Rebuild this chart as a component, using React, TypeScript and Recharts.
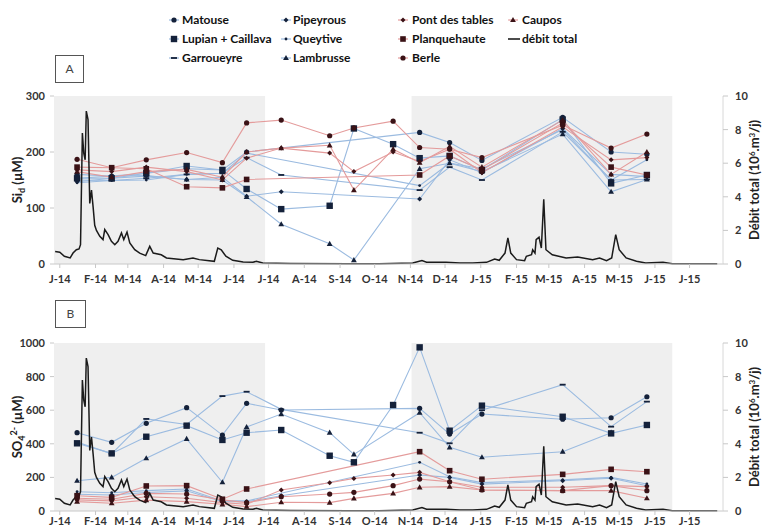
import React from "react";
import { ComposedChart, Line, XAxis, YAxis, ReferenceArea } from "recharts";

// x axis: days since 1 Jan 2014
const monthTicks = [0, 31, 59, 90, 120, 151, 181, 212, 243, 273, 304, 334, 365, 396, 424, 455, 485, 516, 546];
const monthLabels = ["J-14", "F-14", "M-14", "A-14", "M-14", "J-14", "J-14", "A-14", "S-14", "O-14", "N-14", "D-14", "J-15", "F-15", "M-15", "A-15", "M-15", "J-15", "J-15"];

// sampling campaigns
const sampleDays = [15, 45, 75, 110, 141, 162, 192, 234, 255, 289, 312, 338, 366, 436, 478, 509];

// Si_d (µM)
const matouseSi = [160, 157, 162, 170, 168, 200, null, null, null, null, 235, 217, 185, 262, 200, 196];
const lupianSi = [153, 153, 162, 175, 168, 134, 98, 104, 242, 214, 189, 193, 168, 258, 144, 159];
const garroueyreSi = [150, 149, 153, 160, 162, 190, 159, null, null, null, 132, 173, 150, 236, 150, 151];
const pipeyrousSi = [147, 153, 157, 151, 155, 121, 129, null, null, null, 116, 186, 163, 242, 160, 156];
const queytiveSi = [145, 149, 150, 160, 162, 198, null, null, null, null, 140, 180, 170, 240, 150, 186];
const lambrusseSi = [153, 157, 158, 151, 150, 120, 71, 36, 7, null, 170, 180, 165, 232, 129, 151];
const pontSi = [168, 165, 173, 165, 150, 189, 207, 198, 165, 200, 183, 205, 163, 245, 186, 190];
const planquehauteSi = [173, 172, 170, 138, 136, 151, null, null, null, null, 159, 193, 168, 252, 173, 159];
const berleSi = [187, 172, 186, 199, 181, 252, 257, 229, 243, 255, 208, 205, 190, 248, 207, 232];
const cauposSi = [165, 155, 165, 169, 155, 200, 207, 212, 132, 205, 181, 210, 173, 257, 160, 200];

// SO4 2- (µM)
const matouseSo4 = [466, 409, 522, 615, 452, 641, 601, null, null, null, 611, 458, 577, 546, 555, 680];
const lupianSo4 = [403, 343, 442, 508, 423, 466, 482, 329, 290, 631, 974, 478, 627, 561, 462, 512];
const garroueyreSo4 = [410, 340, 548, 515, 684, 710, 605, null, null, null, 466, 403, 600, 752, 502, 651];
const pipeyrousSo4 = [100, 95, 110, 120, 55, 55, 91, null, null, null, 214, 200, 160, 180, 195, 150];
const queytiveSo4 = [115, 109, 121, 131, 60, 60, null, null, null, null, 290, 204, 169, 185, 200, 161];
const lambrusseSo4 = [180, 200, 314, 429, 171, 500, 577, 466, 337, null, 585, 379, 320, 353, 466, null];
const pontSo4 = [66, 60, 85, 76, 50, 40, 125, 168, 194, 214, 230, 174, 141, 141, 151, 145];
const planquehauteSo4 = [91, 81, 149, 151, 70, 131, null, null, null, null, 353, 240, 189, 218, 248, 234];
const berleSo4 = [76, 70, 105, 101, 66, 50, 85, 101, 111, 151, 190, 174, 125, 121, 151, 121];
const cauposSo4 = [56, 46, 65, 56, 40, 26, 52, 50, 75, 105, 141, 145, 125, 121, 121, 76];

// débit total (10^6 m3/j), read at turning points of the hydrograph
const dischargeDays = [-4, 0, 4, 9, 11.5, 14.4, 16.7, 18, 19.6, 20.8, 22, 23, 24.5, 26, 27.5, 28.9, 30.3, 31.8, 34.7, 37.5, 39, 41.9, 44.8, 47.7, 50.5, 53.5, 55.5, 58.3, 60.7, 65, 69.3, 74.5, 78, 81, 88, 92.5, 107, 115.5, 121, 134, 137, 140, 144, 150, 159, 167.5, 170.4, 176, 200, 250, 277, 306, 314, 318, 335, 347, 358, 370, 377, 381, 386, 388.5, 391, 396, 403, 404.5, 409, 410, 412, 413, 415.5, 417.5, 419.6, 421.5, 427, 439, 449, 462, 468, 474, 478.5, 482, 485, 491, 500, 508, 523, 531, 570];
const dischargeValues = [0.75, 0.7, 0.46, 0.36, 0.65, 0.85, 0.9, 1.15, 7.8, 6.6, 6.2, 9.1, 8.6, 3.6, 4.4, 3.4, 2.3, 2.0, 1.65, 1.45, 2.05, 1.75, 1.35, 1.15, 1.35, 1.85, 1.45, 1.9, 1.25, 0.85, 0.65, 0.5, 1.05, 0.65, 0.55, 0.36, 0.26, 0.36, 0.26, 0.16, 0.95, 0.85, 0.46, 0.22, 0.12, 0.1, 0.16, 0.06, 0.03, 0.02, 0.02, 0.06, 0.2, 0.1, 0.1, 0.06, 0.06, 0.1, 0.3, 0.22, 0.65, 1.55, 0.65, 0.26, 0.2, 0.46, 0.55, 0.85, 0.65, 1.45, 1.6, 0.95, 3.85, 0.85, 0.55, 0.36, 0.42, 0.26, 0.36, 0.2, 0.36, 1.75, 0.85, 0.36, 0.16, 0.06, 0.1, 0.02, 0.02];

const BLUE_LINE = "#9bbbe0";
const PINK_LINE = "#e49b9b";
const BLUE_DOT = "#14213a";
const PINK_DOT = "#3a1216";

const SERIES = [
  { key: "matouse", name: "Matouse", line: BLUE_LINE, dot: BLUE_DOT, shape: "circle", si: matouseSi, so4: matouseSo4 },
  { key: "lupian", name: "Lupian + Caillava", line: BLUE_LINE, dot: BLUE_DOT, shape: "square", si: lupianSi, so4: lupianSo4 },
  { key: "garroueyre", name: "Garroueyre", line: BLUE_LINE, dot: BLUE_DOT, shape: "dash", si: garroueyreSi, so4: garroueyreSo4 },
  { key: "pipeyrous", name: "Pipeyrous", line: BLUE_LINE, dot: BLUE_DOT, shape: "diamond", si: pipeyrousSi, so4: pipeyrousSo4 },
  { key: "queytive", name: "Queytive", line: BLUE_LINE, dot: BLUE_DOT, shape: "dot", si: queytiveSi, so4: queytiveSo4 },
  { key: "lambrusse", name: "Lambrusse", line: BLUE_LINE, dot: BLUE_DOT, shape: "triangle", si: lambrusseSi, so4: lambrusseSo4 },
  { key: "pont", name: "Pont des tables", line: PINK_LINE, dot: PINK_DOT, shape: "diamond", si: pontSi, so4: pontSo4 },
  { key: "planquehaute", name: "Planquehaute", line: PINK_LINE, dot: PINK_DOT, shape: "smallSquare", si: planquehauteSi, so4: planquehauteSo4 },
  { key: "berle", name: "Berle", line: PINK_LINE, dot: PINK_DOT, shape: "circle", si: berleSi, so4: berleSo4 },
  { key: "caupos", name: "Caupos", line: PINK_LINE, dot: PINK_DOT, shape: "triangle", si: cauposSi, so4: cauposSo4 },
];

const FONT = "Lato, 'Open Sans', 'DejaVu Sans', sans-serif";

function Marker({ shape, x, y, fill }: { shape: string; x: number; y: number; fill: string }) {
  switch (shape) {
    case "circle":
      return <circle cx={x} cy={y} r={2.6} fill={fill} />;
    case "square":
      return <rect x={x - 3.2} y={y - 3.2} width={6.4} height={6.4} fill={fill} />;
    case "smallSquare":
      return <rect x={x - 2.8} y={y - 2.8} width={5.6} height={5.6} fill={fill} />;
    case "dash":
      return <rect x={x - 3} y={y - 0.9} width={6} height={1.8} fill={fill} />;
    case "diamond":
      return <path d={`M${x},${y - 2.5}L${x + 2.5},${y}L${x},${y + 2.5}L${x - 2.5},${y}Z`} fill={fill} />;
    case "dot":
      return <circle cx={x} cy={y} r={1.4} fill={fill} />;
    default:
      return <path d={`M${x},${y - 3.1}L${x + 2.9},${y + 2.1}L${x - 2.9},${y + 2.1}Z`} fill={fill} />;
  }
}

const makeDot = (shape: string, fill: string, key: string) => (p: any) => {
  const v = p.payload ? p.payload[key] : null;
  if (v == null || p.cx == null || p.cy == null || isNaN(p.cy)) return <g key={`e-${key}-${p.index}`} />;
  return (
    <g key={`m-${key}-${p.index}`}>
      <Marker shape={shape} x={p.cx} y={p.cy} fill={fill} />
    </g>
  );
};

function buildRows(valueKey: "si" | "so4") {
  const map = new Map<number, any>();
  dischargeDays.forEach((d, i) => map.set(d, { day: d, q: dischargeValues[i] }));
  sampleDays.forEach((d, i) => {
    const row = map.get(d) ?? { day: d };
    SERIES.forEach((s) => {
      row[s.key] = s[valueKey][i];
    });
    map.set(d, row);
  });
  return [...map.values()].sort((a, b) => a.day - b.day);
}

const tickStyle = { fontSize: 11, fontWeight: 700, fill: "#333", fontFamily: FONT };

function Panel({ top, height, xTickMargin, leftMax, leftTicks, valueKey }: any) {
  const rows = buildRows(valueKey);
  return (
    <div style={{ position: "absolute", left: 0, top }}>
      <ComposedChart width={773} height={height} data={rows} margin={{ top: 16, right: 0, bottom: 0, left: 0 }}>
        <XAxis
          dataKey="day"
          type="number"
          domain={[-5, 575]}
          ticks={monthTicks}
          interval={0}
          allowDataOverflow
          tickFormatter={(v) => monthLabels[monthTicks.indexOf(v)] ?? ""}
          height={height - 16 - 168}
          tick={tickStyle}
          tickSize={4}
          tickMargin={xTickMargin}
          tickLine={{ stroke: "#c8c8c8" }}
          axisLine={{ stroke: "#c8c8c8" }}
        />
        <YAxis
          yAxisId="left"
          domain={[0, leftMax]}
          ticks={leftTicks}
          interval={0}
          width={54}
          tick={tickStyle}
          tickSize={4}
          tickMargin={5}
          tickLine={{ stroke: "#c8c8c8" }}
          axisLine={false}
          allowDataOverflow
        />
        <YAxis
          yAxisId="right"
          orientation="right"
          domain={[0, 10]}
          ticks={[0, 2, 4, 6, 8, 10]}
          interval={0}
          width={50}
          tick={tickStyle}
          tickSize={5}
          tickMargin={7}
          tickLine={{ stroke: "#c8c8c8" }}
          axisLine={{ stroke: "#d8d8d8" }}
        />
        <ReferenceArea yAxisId="left" x1={-5} x2={178} y1={0} y2={leftMax} fill="#efefef" fillOpacity={1} stroke="none" />
        <ReferenceArea yAxisId="left" x1={305} x2={531} y1={0} y2={leftMax} fill="#efefef" fillOpacity={1} stroke="none" />
        {SERIES.map((s) => (
          <Line
            key={s.key}
            yAxisId="left"
            dataKey={s.key}
            type="linear"
            stroke={s.line}
            strokeWidth={1.1}
            dot={makeDot(s.shape, s.dot, s.key)}
            activeDot={false}
            connectNulls
            isAnimationActive={false}
          />
        ))}
        <Line
          yAxisId="right"
          dataKey="q"
          type="linear"
          stroke="#1b1b1b"
          strokeWidth={1.5}
          dot={false}
          activeDot={false}
          connectNulls
          isAnimationActive={false}
        />
      </ComposedChart>
    </div>
  );
}

const legendCols = [
  { mx: 174, tx: 182, items: [0, 1, 2] },
  { mx: 286, tx: 293, items: [3, 4, 5] },
  { mx: 403, tx: 412, items: [6, 7, 8] },
  { mx: 513, tx: 522, items: [9] },
];
const legendRows = [20, 39, 58];

function Overlay() {
  const txt = { fontFamily: FONT, fontWeight: 700, fontSize: 12, fill: "#111" } as const;
  const title = { fontFamily: FONT, fontWeight: 700, fontSize: 13, fill: "#222" } as const;
  return (
    <svg width={773} height={531} style={{ position: "absolute", left: 0, top: 0, pointerEvents: "none" }}>
      {legendCols.map((c) =>
        c.items.map((idx, r) => {
          const s = SERIES[idx];
          const y = legendRows[r];
          return (
            <g key={s.key}>
              <line x1={c.mx - 5} x2={c.mx + 5} y1={y} y2={y} stroke={s.line} strokeWidth={1.2} />
              <Marker shape={s.shape} x={c.mx} y={y} fill={s.dot} />
              <text x={c.tx} y={y + 4} {...txt}>
                {s.name}
              </text>
            </g>
          );
        })
      )}
      <line x1={508} x2={520} y1={39} y2={39} stroke="#111" strokeWidth={1.5} />
      <text x={522} y={43} {...txt}>
        débit total
      </text>

      <rect x={55.5} y={55.5} width={28} height={27} fill="#fff" stroke="#555" strokeWidth={1} />
      <text x={69.5} y={73} textAnchor="middle" fontFamily={FONT} fontSize={12} fill="#444">
        A
      </text>
      <rect x={55.5} y={300.5} width={30} height={27} fill="#fff" stroke="#555" strokeWidth={1} />
      <text x={70.5} y={318} textAnchor="middle" fontFamily={FONT} fontSize={12} fill="#444">
        B
      </text>

      <text transform="translate(22,180) rotate(-90)" textAnchor="middle" {...title}>
        Si
        <tspan dy={3} fontSize={9}>d</tspan>
        <tspan dy={-3}> (µM)</tspan>
      </text>
      <text transform="translate(22,427) rotate(-90)" textAnchor="middle" {...title}>
        SO
        <tspan dy={3} fontSize={9}>4</tspan>
        <tspan dy={-8} fontSize={9}>2-</tspan>
        <tspan dy={5}> (µM)</tspan>
      </text>
      {[180, 427].map((cy) => (
        <text key={cy} transform={`translate(759,${cy}) rotate(-90)`} textAnchor="middle" {...title}>
          Débit total (10
          <tspan dy={-4} fontSize={8}>6</tspan>
          <tspan dy={4}>.m</tspan>
          <tspan dy={-4} fontSize={8}>3</tspan>
          <tspan dy={4}>/j)</tspan>
        </text>
      ))}
    </svg>
  );
}

export default function App() {
  return (
    <div style={{ position: "absolute", left: 0, top: 0, width: 773, height: 531, background: "#fff", overflow: "hidden" }}>
      <Panel top={80} height={210} xTickMargin={7} leftMax={300} leftTicks={[0, 100, 200, 300]} valueKey="si" />
      <Panel top={327} height={204} xTickMargin={2} leftMax={1000} leftTicks={[0, 200, 400, 600, 800, 1000]} valueKey="so4" />
      <Overlay />
    </div>
  );
}
